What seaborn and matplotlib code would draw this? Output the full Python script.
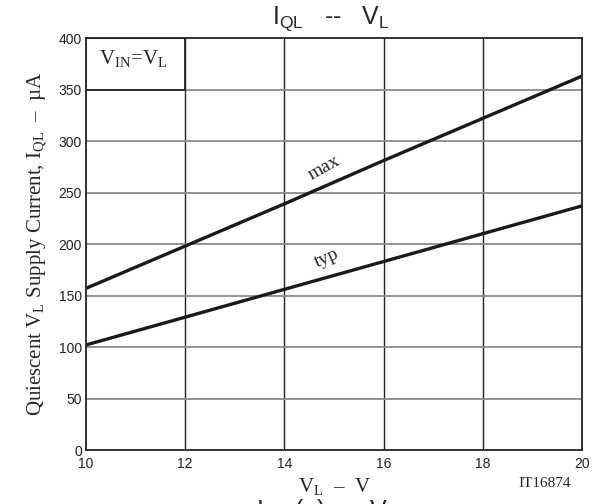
import pandas as pd
import seaborn as sns
import matplotlib.pyplot as plt
import matplotlib.patches as mpatches

# supply voltage V_L (V) and quiescent current (uA)
vl = [10, 12, 14, 16, 18, 20]
iql_max = [157, 198, 239, 281, 322, 363]
iql_typ = [102, 129, 156, 183, 210, 237]
curve_names = ['max', 'typ']

x_ticks = [10, 12, 14, 16, 18, 20]
y_ticks = [0, 50, 100, 150, 200, 250, 300, 350, 400]

df = pd.DataFrame({
    'VL': vl * 2,
    'IQL': iql_max + iql_typ,
    'curve': [curve_names[0]] * len(vl) + [curve_names[1]] * len(vl),
})

sns.set_style('white')
plt.rcParams['font.family'] = ['Liberation Sans', 'DejaVu Sans']
plt.rcParams['mathtext.fontset'] = 'custom'
plt.rcParams['mathtext.rm'] = 'Liberation Serif'
plt.rcParams['mathtext.sf'] = 'Liberation Sans'

fig = plt.figure(figsize=(5.99, 5.04), dpi=100)
ax = fig.add_axes([0.1436, 0.1071, 0.828, 0.8175])

sns.lineplot(data=df, x='VL', y='IQL', hue='curve', palette=['#1a1a1a', '#1a1a1a'],
             linewidth=2.4, legend=False, ax=ax)

ax.set_xlim(10, 20)
ax.set_ylim(0, 400)
ax.set_xticks(x_ticks)
ax.set_yticks(y_ticks)
ax.tick_params(length=0, labelsize=10, colors='#222222')
ax.tick_params(axis='x', pad=5)
ax.tick_params(axis='y', pad=3)

# grid: vertical dark, horizontal gray
for xv in x_ticks[1:-1]:
    ax.axvline(xv, color='#222222', lw=1.0, zorder=0)
for yv in y_ticks[1:-1]:
    ax.axhline(yv, color='#8a8a8a', lw=1.3, zorder=0)
for s in ax.spines.values():
    s.set_color('#222222')
    s.set_linewidth(1.3)

# condition box in the top-left corner
ax.add_patch(mpatches.Rectangle((10, 350), 2, 50, fill=False, ec='#222222', lw=1.3, zorder=3))
ax.text(10.95, 379, r'V$_\mathrm{IN}$=V$_\mathrm{L}$', family='Liberation Serif', fontsize=15,
        ha='center', va='center')

ax.text(14.8, 274, 'max', family='Liberation Serif', fontsize=14, rotation=29,
        ha='center', va='center')
ax.text(14.85, 186, 'typ', family='Liberation Serif', fontsize=14, rotation=24,
        ha='center', va='center')

ax.set_xlabel(r'V$_\mathrm{L}$  –  V', family='Liberation Serif', fontsize=15, labelpad=4)
ax.set_ylabel(r'Quiescent V$_\mathrm{L}$ Supply Current, I$_\mathrm{QL}$  –  µA',
              family='Liberation Serif', fontsize=15, labelpad=6)

fig.text(0.553, 0.963, r'$\mathsf{I_{QL}}$   --   $\mathsf{V_L}$', fontsize=18,
         ha='center', va='center')
fig.text(0.91, 0.041, 'IT16874', family='Liberation Serif', fontsize=11,
         ha='center', va='center')
# partially cut-off caption at the very bottom
fig.text(0.545, -0.016, r'$\mathsf{I_{QL}}$ (–)  --  $\mathsf{V_L}$', fontsize=18,
         ha='center', va='center')

plt.savefig('out.png', dpi=100)
